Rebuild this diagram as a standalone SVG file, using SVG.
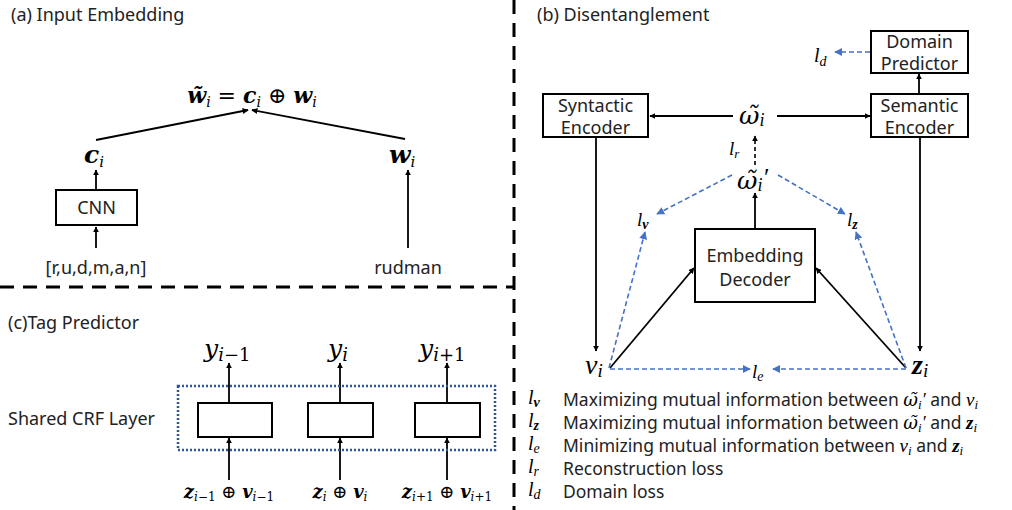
<svg xmlns="http://www.w3.org/2000/svg" width="1012" height="510" viewBox="0 0 1012 510">
<defs>
<marker id="ah" viewBox="0 0 10 10" refX="9" refY="5" markerWidth="6" markerHeight="6" orient="auto" markerUnits="userSpaceOnUse"><path d="M0,0 L10,5 L0,10 z" fill="#000"/></marker>
<marker id="ab" viewBox="0 0 10 10" refX="9" refY="5" markerWidth="8" markerHeight="8" orient="auto" markerUnits="userSpaceOnUse"><path d="M0,0 L10,5 L0,10 z" fill="#4472C4"/></marker>
<style>
.lbl{font-family:"Noto Sans","Liberation Sans",sans-serif;font-size:18px;fill:#222}
.leg{font-size:17.5px}
.box{fill:#fff;stroke:#000;stroke-width:2}
.ln{stroke:#000;stroke-width:1.8;fill:none;marker-end:url(#ah)}
.bl{stroke:#4472C4;stroke-width:1.6;stroke-dasharray:5,3;fill:none;marker-end:url(#ab)}
.sep{stroke:#000;stroke-width:3;stroke-dasharray:14,9;fill:none}
.mb{font-family:"DejaVu Serif","Liberation Serif",serif;font-style:italic;font-weight:bold;fill:#000}
.mi{font-family:"DejaVu Serif","Liberation Serif",serif;font-style:italic;fill:#000}
.ci{font-family:"Liberation Serif","DejaVu Serif",serif;font-style:italic;fill:#000}
.om{font-family:"DejaVu Serif",serif;font-style:italic;font-weight:normal}
</style>
</defs>
<g id="separators">
<line class="sep" x1="514" y1="0" x2="514" y2="510"/>
<line class="sep" x1="0" y1="287" x2="514" y2="287"/>
</g>
<g id="connectors">
<line class="ln" x1="96" y1="140" x2="248" y2="110"/>
<line class="ln" x1="405" y1="139" x2="252" y2="110"/>
<line class="ln" x1="96" y1="190" x2="96" y2="170"/>
<line class="ln" x1="96" y1="248" x2="96" y2="227"/>
<line class="ln" x1="408" y1="248" x2="408" y2="170"/>
<line class="ln" x1="733" y1="116" x2="650" y2="116"/>
<line class="ln" x1="777" y1="116" x2="870" y2="116"/>
<line class="ln" x1="919" y1="94" x2="919" y2="74"/>
<line x1="755" y1="165" x2="755" y2="136" stroke="#000" stroke-width="1.6" stroke-dasharray="4,3" marker-end="url(#ah)"/>
<line class="ln" x1="755" y1="229" x2="755" y2="193"/>
<line class="ln" x1="596" y1="137" x2="596" y2="351"/>
<line class="ln" x1="920" y1="137" x2="920" y2="351"/>
<line class="ln" x1="610" y1="368" x2="694" y2="268"/>
<line class="ln" x1="906" y1="368" x2="816" y2="268"/>
<line class="bl" x1="870" y1="52" x2="835" y2="52"/>
<line class="bl" x1="732" y1="175" x2="657" y2="214"/>
<line class="bl" x1="778" y1="175" x2="845" y2="214"/>
<line class="bl" x1="609" y1="368" x2="645" y2="232"/>
<line class="bl" x1="906" y1="368" x2="856" y2="232"/>
<line class="bl" x1="610" y1="369" x2="750" y2="369"/>
<line class="bl" x1="906" y1="369" x2="773" y2="369"/>
<line class="ln" x1="229" y1="403" x2="229" y2="363"/>
<line class="ln" x1="340" y1="403" x2="340" y2="363"/>
<line class="ln" x1="447" y1="403" x2="447" y2="363"/>
<line class="ln" x1="229" y1="480" x2="229" y2="438"/>
<line class="ln" x1="340" y1="480" x2="340" y2="438"/>
<line class="ln" x1="447" y1="480" x2="447" y2="438"/>
</g>
<g id="titles">
<text class="lbl" x="11" y="21">(a) Input Embedding</text>
<text class="lbl" x="537" y="21">(b) Disentanglement</text>
<text class="lbl" x="8" y="329">(c)Tag Predictor</text>
</g>
<g id="formula"><text class="mb" x="252" y="103" font-size="22" text-anchor="middle">w̃<tspan font-size="14" dy="4" font-weight="normal">i</tspan><tspan dy="-4" font-style="normal" font-weight="normal"> = </tspan>c<tspan font-size="14" dy="4" font-weight="normal">i</tspan><tspan dy="-4" font-style="normal" font-weight="normal"> ⊕ </tspan>w<tspan font-size="14" dy="4" font-weight="normal">i</tspan></text></g>
<g id="ci"><text class="mb" x="84" y="163" font-size="25">c<tspan font-size="15" dy="4" font-weight="normal">i</tspan></text></g>
<g id="wi"><text class="mb" x="389" y="163" font-size="25">w<tspan font-size="15" dy="4" font-weight="normal">i</tspan></text></g>
<g id="cnn"><rect class="box" x="56" y="190" width="81" height="35"/><text class="lbl" x="96.5" y="214" text-anchor="middle">CNN</text></g>
<g id="chars"><text class="lbl" x="96" y="274" text-anchor="middle">[r,u,d,m,a,n]</text></g>
<g id="rudman"><text class="lbl" x="408" y="274" text-anchor="middle">rudman</text></g>
<g id="domain"><rect class="box" x="871" y="31" width="97" height="42"/><text class="lbl" x="919.5" y="48" text-anchor="middle" font-size="17">Domain</text><text class="lbl" x="919.5" y="70" text-anchor="middle" font-size="17">Predictor</text></g>
<g id="ld"><text class="ci" x="814" y="62" font-size="20">l<tspan font-size="14" dy="4">d</tspan></text></g>
<g id="syntactic"><rect class="box" x="543" y="94" width="105" height="43"/><text class="lbl" x="595.5" y="112" text-anchor="middle">Syntactic</text><text class="lbl" x="595.5" y="134" text-anchor="middle">Encoder</text></g>
<g id="semantic"><rect class="box" x="871" y="94" width="97" height="43"/><text class="lbl" x="919.5" y="112" text-anchor="middle">Semantic</text><text class="lbl" x="919.5" y="134" text-anchor="middle">Encoder</text></g>
<g id="omega"><text class="ci" x="739" y="124" font-size="25"><tspan class="om">ω̃</tspan><tspan font-size="18" dy="2">i</tspan></text></g>
<g id="lr"><text class="ci" x="729" y="155" font-size="19">l<tspan font-size="13" dy="3">r</tspan></text></g>
<g id="omegap"><text class="ci" x="737" y="189" font-size="25"><tspan class="om">ω̃</tspan><tspan font-size="18" dy="2">i</tspan><tspan dy="-5">′</tspan></text></g>
<g id="lv"><text class="ci" x="637" y="226" font-size="19">l<tspan font-size="14" dy="3" font-weight="bold">v</tspan></text></g>
<g id="lz"><text class="ci" x="847" y="226" font-size="19">l<tspan font-size="14" dy="3" font-weight="bold">z</tspan></text></g>
<g id="decoder"><rect class="box" x="695" y="229" width="120" height="73"/><text class="lbl" x="755" y="262" text-anchor="middle">Embedding</text><text class="lbl" x="755" y="286" text-anchor="middle">Decoder</text></g>
<g id="vi"><text class="ci" x="585" y="374" font-size="28">v<tspan font-size="19" dy="3">i</tspan></text></g>
<g id="zi"><text class="ci" x="912" y="374" font-size="28" font-weight="bold">z<tspan font-size="19" dy="3" font-weight="normal">i</tspan></text></g>
<g id="le"><text class="ci" x="752" y="378" font-size="19">l<tspan font-size="14" dy="3">e</tspan></text></g>
<g id="legend">
<text class="ci" x="528" y="404" font-size="20">l<tspan font-size="14" dy="3" font-weight="bold">v</tspan></text>
<text class="lbl leg" x="563" y="406">Maximizing mutual information between <tspan class="ci" font-size="18"><tspan class="om">ω̃</tspan><tspan font-size="13" dy="3">i</tspan><tspan dy="-3">′</tspan></tspan> and <tspan class="ci" font-size="19">v<tspan font-size="13" dy="3">i</tspan></tspan></text>
<text class="ci" x="528" y="427" font-size="20">l<tspan font-size="14" dy="3" font-weight="bold">z</tspan></text>
<text class="lbl leg" x="563" y="429">Maximizing mutual information between <tspan class="ci" font-size="18"><tspan class="om">ω̃</tspan><tspan font-size="13" dy="3">i</tspan><tspan dy="-3">′</tspan></tspan> and <tspan class="ci" font-size="19" font-weight="bold">z<tspan font-size="13" dy="3" font-weight="normal">i</tspan></tspan></text>
<text class="ci" x="528" y="450" font-size="20">l<tspan font-size="14" dy="3">e</tspan></text>
<text class="lbl leg" x="563" y="452">Minimizing mutual information between <tspan class="ci" font-size="19">v<tspan font-size="13" dy="3">i</tspan></tspan><tspan dy="-3"> and </tspan><tspan class="ci" font-size="19" font-weight="bold">z<tspan font-size="13" dy="3" font-weight="normal">i</tspan></tspan></text>
<text class="ci" x="528" y="473" font-size="20">l<tspan font-size="14" dy="3">r</tspan></text>
<text class="lbl leg" x="563" y="475">Reconstruction loss</text>
<text class="ci" x="528" y="496" font-size="20">l<tspan font-size="14" dy="3">d</tspan></text>
<text class="lbl leg" x="563" y="498">Domain loss</text>
</g>
<g id="crf">
<rect x="178" y="386" width="317" height="64" fill="none" stroke="#2F5597" stroke-width="2.5" stroke-dasharray="2,2"/>
<text class="lbl" x="8" y="425">Shared CRF Layer</text>
</g>
<g id="cell1"><rect class="box" x="198" y="403" width="74" height="34"/></g>
<g id="cell2"><rect class="box" x="308" y="403" width="65" height="34"/></g>
<g id="cell3"><rect class="box" x="415" y="403" width="65" height="34"/></g>
<g id="y1"><text class="mi" x="204" y="357" font-size="25">y<tspan font-size="18" dy="4">i</tspan><tspan font-size="18" font-style="normal">−1</tspan></text></g>
<g id="y2"><text class="mi" x="328" y="357" font-size="25">y<tspan font-size="18" dy="4">i</tspan></text></g>
<g id="y3"><text class="mi" x="419" y="357" font-size="25">y<tspan font-size="18" dy="4">i</tspan><tspan font-size="18" font-style="normal">+1</tspan></text></g>
<g id="x1"><text class="mb" x="229" y="498" font-size="18" text-anchor="middle">z<tspan font-size="12" dy="3" font-weight="normal">i<tspan font-style="normal">−1</tspan></tspan><tspan dy="-3" font-style="normal" font-weight="normal"> ⊕ </tspan>v<tspan font-size="12" dy="3" font-weight="normal">i<tspan font-style="normal">−1</tspan></tspan></text></g>
<g id="x2"><text class="mb" x="340" y="498" font-size="18" text-anchor="middle">z<tspan font-size="12" dy="3" font-weight="normal">i</tspan><tspan dy="-3" font-style="normal" font-weight="normal"> ⊕ </tspan>v<tspan font-size="12" dy="3" font-weight="normal">i</tspan></text></g>
<g id="x3"><text class="mb" x="447" y="498" font-size="18" text-anchor="middle">z<tspan font-size="12" dy="3" font-weight="normal">i<tspan font-style="normal">+1</tspan></tspan><tspan dy="-3" font-style="normal" font-weight="normal"> ⊕ </tspan>v<tspan font-size="12" dy="3" font-weight="normal">i<tspan font-style="normal">+1</tspan></tspan></text></g>
</svg>
